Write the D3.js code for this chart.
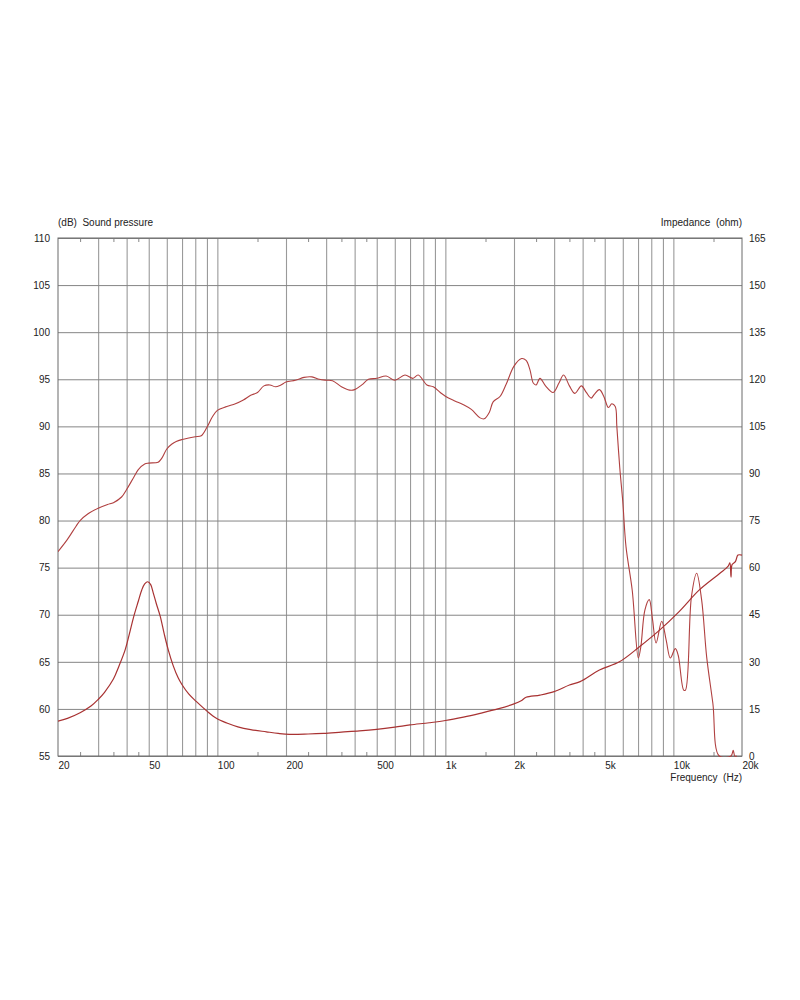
<!DOCTYPE html>
<html>
<head>
<meta charset="utf-8">
<script src="https://cdn.jsdelivr.net/npm/d3@7"></script>
<style>
  html, body { margin: 0; padding: 0; background: #ffffff; }
  svg { display: block; }
  text { font-family: "Liberation Sans", Arial, sans-serif; fill: #222; }
</style>
</head>
<body>
<svg id="chart" width="800" height="1000"></svg>
<script>
// ---- data ----
const splFreq = [20,22,24,25,27,30,33,35,38,40,43,45,48,50,55,57,60,63,66,70,80,85,90,95,100,110,120,130,140,150,160,170,180,190,200,220,240,260,280,300,320,350,380,400,430,460,500,550,600,665,720,760,830,885,950,1000,1100,1200,1300,1420,1480,1560,1620,1740,1850,2000,2160,2260,2350,2430,2500,2600,2750,2970,3150,3300,3500,3700,3950,4150,4360,4500,4740,4950,5190,5370,5560,5650,5820,6000,6200,6600,7020,7200,7500,7840,8100,8400,8890,9300,9700,10200,10500,11100,11300,12000,12650,13300,14000,14900,15900,17900,18300,18600,19000];
const splDb   = [76.7,78.0,79.4,80.0,80.7,81.3,81.7,81.9,82.5,83.3,84.6,85.4,86.0,86.1,86.2,86.6,87.6,88.1,88.4,88.6,88.9,89.0,89.9,91.0,91.7,92.1,92.4,92.8,93.3,93.6,94.3,94.4,94.2,94.4,94.7,94.9,95.2,95.25,95.0,94.9,94.85,94.2,93.85,93.9,94.4,95.0,95.1,95.35,94.9,95.45,95.1,95.45,94.4,94.2,93.6,93.2,92.7,92.3,91.8,90.9,90.8,91.5,92.6,93.2,94.5,96.4,97.2,97.0,96.0,94.6,94.4,95.1,94.3,93.6,94.6,95.45,94.3,93.5,94.3,93.6,93.0,93.4,93.9,93.2,92.0,92.4,92.1,90.0,85.6,82.0,77.2,72.6,65.4,66.6,70.5,71.6,69.5,67.0,69.3,67.3,65.4,66.4,65.7,62.0,62.0,71.9,74.4,71.6,65.5,60.6,55.0,55.0,55.6,55.0,55.0];

const impFreq = [20,22,25,28,30,32,35,37,39.4,41,43,45,46.6,48,49.5,51,52.4,54,56.2,58.5,60.9,64,67.3,70,75,81,90,99,110,123,140,164,185,207,250,292,350,420,500,600,700,850,1000,1200,1420,1700,2000,2150,2260,2600,3000,3500,3900,4740,5800,7100,8700,10600,13000,16000,17400,17700,17900,18100,18700,19200,20000];
const impOhm  = [11.1,12.0,13.8,16.0,18.0,20.3,24.5,28.6,33.8,38.5,44.5,49.3,52.9,54.8,55.5,54.6,51.8,48.5,44.4,38.8,33.8,28.8,24.9,22.7,19.7,17.3,14.3,12.0,10.5,9.3,8.4,7.7,7.2,6.9,7.0,7.2,7.6,8.0,8.5,9.2,9.9,10.6,11.3,12.4,13.6,15.0,16.6,17.6,18.7,19.4,20.5,22.6,23.7,27.4,30.0,34.8,40.1,46.0,52.9,58.2,60.5,61.5,57.0,61.0,61.9,64.0,64.0];

const gridFreqs  = [30,40,50,60,70,80,90,100,200,300,400,500,600,700,800,900,1000,2000,3000,4000,5000,6000,7000,8000,9000,10000];
const minorFreqs = [25,35,45,150,250,350,450,1500,2500,3500,4500,15000];
const xTickFreqs = [20,50,100,200,500,1000,2000,5000,10000,20000];
const xTickLabels = ["20","50","100","200","500","1k","2k","5k","10k","20k"];
const dbTicks  = [55,60,65,70,75,80,85,90,95,100,105,110];
const ohmTicks = [0,15,30,45,60,75,90,105,120,135,150,165];

// ---- layout ----
const L = 58, R = 742, T = 238, B = 756;
const svg = d3.select("#chart");
svg.append("rect").attr("width", 800).attr("height", 1000).attr("fill", "#fff");

const x  = d3.scaleLog().domain([20, 20000]).range([L, R]);
const yL = d3.scaleLinear().domain([55, 110]).range([B, T]);
const yR = d3.scaleLinear().domain([0, 165]).range([B, T]);

const fontStyle = g => g.selectAll("text").attr("font-size", 10).attr("fill", "#222")
  .style("font-family", "Liberation Sans, Arial, sans-serif");

// vertical grid
svg.append("g").attr("transform", `translate(0,${B})`)
  .call(d3.axisBottom(x).tickValues(gridFreqs).tickSize(-(B - T)).tickFormat(""))
  .call(g => g.select(".domain").remove())
  .call(g => g.selectAll("line").attr("stroke", "#9a9a9a").attr("stroke-width", 1.1));

// horizontal grid
svg.append("g").attr("transform", `translate(${L},0)`)
  .call(d3.axisLeft(yL).tickValues(dbTicks).tickSize(-(R - L)).tickFormat(""))
  .call(g => g.select(".domain").remove())
  .call(g => g.selectAll("line").attr("stroke", "#858585").attr("stroke-width", 1));

// minor ticks bottom and top
svg.append("g").attr("transform", `translate(0,${B})`)
  .call(d3.axisBottom(x).tickValues(minorFreqs).tickSize(-4).tickFormat(""))
  .call(g => g.select(".domain").remove())
  .call(g => g.selectAll("line").attr("stroke", "#888"));
svg.append("g").attr("transform", `translate(0,${T})`)
  .call(d3.axisTop(x).tickValues(minorFreqs).tickSize(-4).tickFormat(""))
  .call(g => g.select(".domain").remove())
  .call(g => g.selectAll("line").attr("stroke", "#888"));

// frame
svg.append("rect").attr("x", L).attr("y", T).attr("width", R - L).attr("height", B - T)
  .attr("fill", "none").attr("stroke", "#6a6a6a").attr("stroke-width", 1);

// left axis labels
svg.append("g").attr("transform", `translate(${L - 8},0)`)
  .call(d3.axisLeft(yL).tickValues(dbTicks).tickSize(0).tickPadding(0))
  .call(g => g.select(".domain").remove())
  .call(fontStyle);

// right axis labels
svg.append("g").attr("transform", `translate(${R + 7},0)`)
  .call(d3.axisRight(yR).tickValues(ohmTicks).tickSize(0).tickPadding(0))
  .call(g => g.select(".domain").remove())
  .call(fontStyle);

// bottom labels
svg.append("g").attr("transform", `translate(0,${B})`)
  .call(d3.axisBottom(x).tickValues(xTickFreqs).tickSize(0).tickPadding(0)
        .tickFormat((d, i) => xTickLabels[i]))
  .call(g => g.select(".domain").remove())
  .call(fontStyle)
  .call(g => g.selectAll("text").attr("text-anchor", "start").attr("dy", null).attr("y", 13));

// titles
svg.append("text").attr("x", L).attr("y", 226).attr("font-size", 10)
  .style("white-space", "pre").text("(dB)  Sound pressure");
svg.append("text").attr("x", R).attr("y", 226).attr("font-size", 10)
  .attr("text-anchor", "end").style("white-space", "pre").text("Impedance  (ohm)");
svg.append("text").attr("x", R).attr("y", 781).attr("font-size", 10)
  .attr("text-anchor", "end").style("white-space", "pre").text("Frequency  (Hz)");

// curves
svg.append("clipPath").attr("id", "plotclip")
  .append("rect").attr("x", L).attr("y", T - 1).attr("width", R - L).attr("height", B - T + 2);

const splLine = d3.line().x((d, i) => x(splFreq[i])).y((d, i) => yL(splDb[i])).curve(d3.curveCatmullRom.alpha(0.5));
const impLine = d3.line().x((d, i) => x(impFreq[i])).y((d, i) => yR(impOhm[i])).curve(d3.curveCatmullRom.alpha(0.5));

svg.append("path").datum(splFreq).attr("d", splLine)
  .attr("fill", "none").attr("stroke", "#b04040").attr("stroke-width", 1.1)
  .attr("clip-path", "url(#plotclip)");
svg.append("path").datum(impFreq).attr("d", impLine)
  .attr("fill", "none").attr("stroke", "#a83232").attr("stroke-width", 1.2)
  .attr("clip-path", "url(#plotclip)");
</script>
</body>
</html>
